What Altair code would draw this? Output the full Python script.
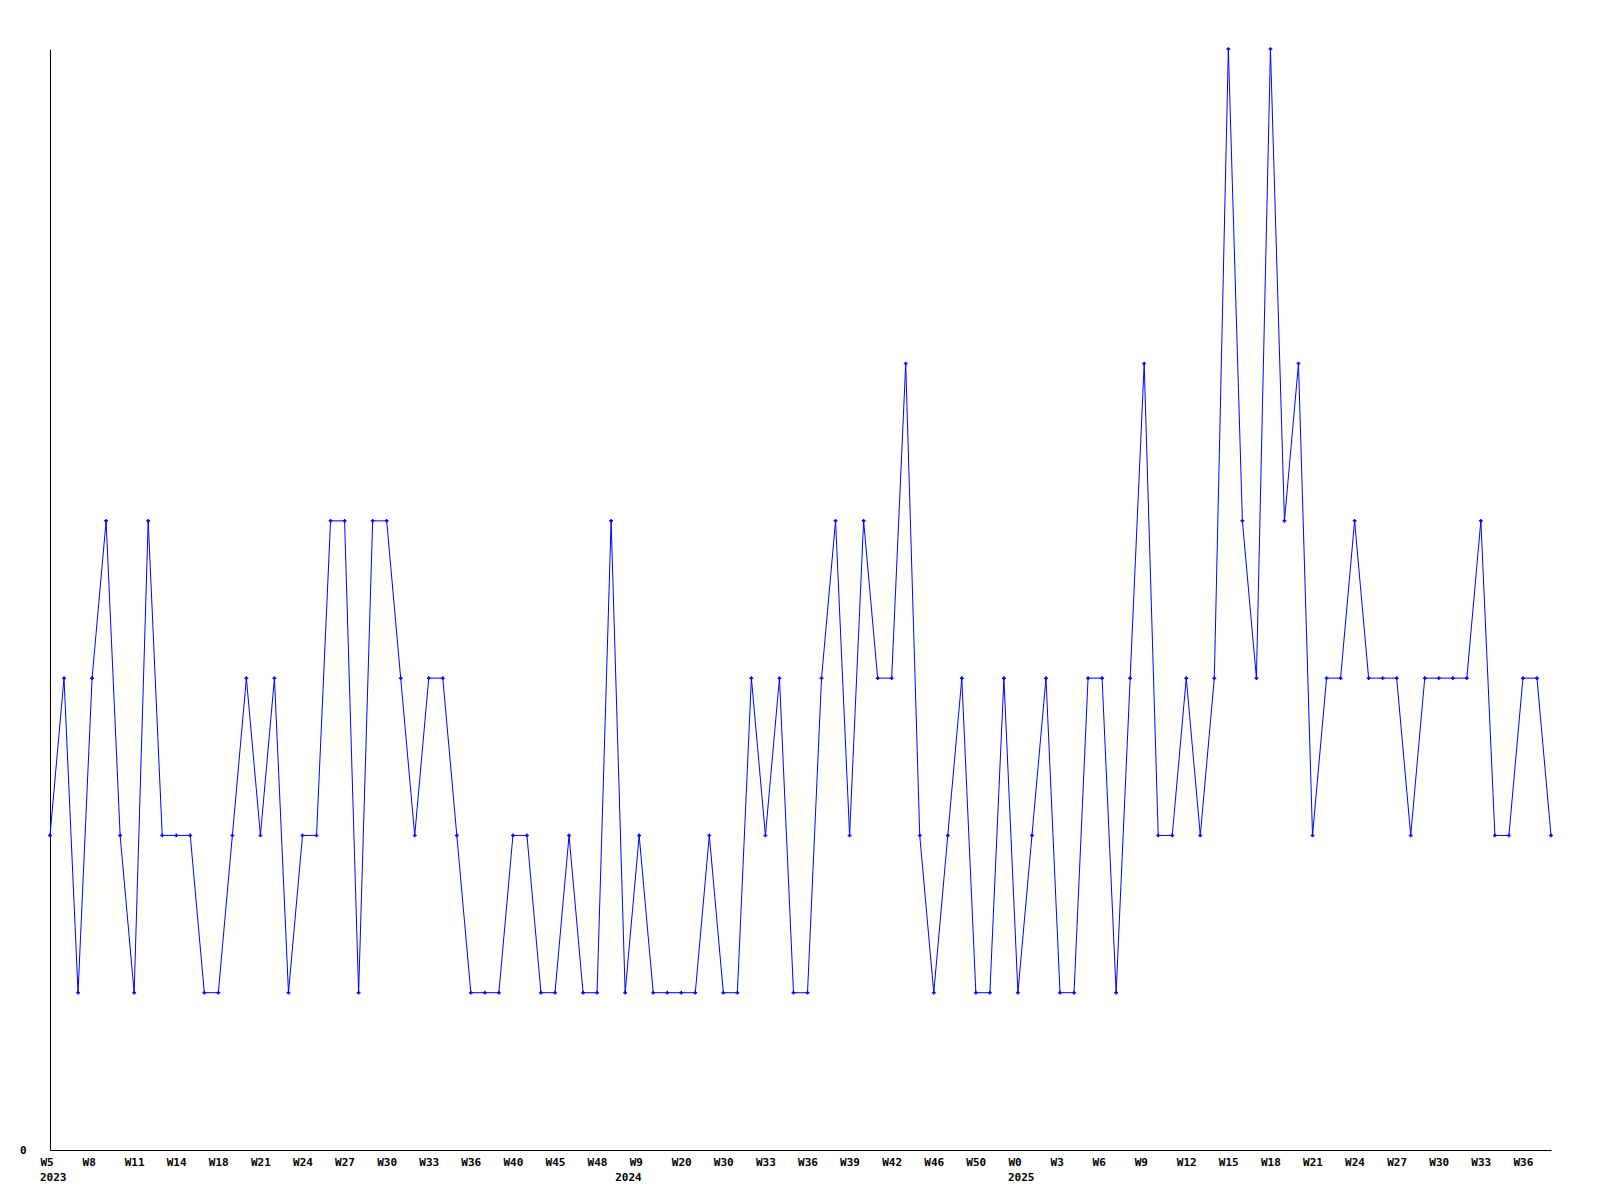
import json
import altair as alt
import pandas as pd

# Weekly values (one per week shown, 108 points)
values = [
    2, 3, 1, 3, 4, 2, 1, 4, 2, 2, 2, 1, 1, 2, 3, 2, 3, 1, 2, 2,
    4, 4, 1, 4, 4, 3, 2, 3, 3, 2, 1, 1, 1, 2, 2, 1, 1, 2, 1, 1,
    4, 1, 2, 1, 1, 1, 1, 2, 1, 1, 3, 2, 3, 1, 1, 3, 4, 2, 4, 3,
    3, 5, 2, 1, 2, 3, 1, 1, 3, 1, 2, 3, 1, 1, 3, 3, 1, 3, 5, 2,
    2, 3, 2, 3, 7, 4, 3, 7, 4, 5, 2, 3, 3, 4, 3, 3, 3, 2, 3, 3,
    3, 3, 4, 2, 2, 3, 3, 2,
]

# Tick labels (every third point)
tick_labels = [
    "W5", "W8", "W11", "W14", "W18", "W21", "W24", "W27", "W30", "W33", "W36", "W40", "W45", "W48",
    "W9", "W20", "W30", "W33", "W36", "W39", "W42", "W46", "W50",
    "W0", "W3", "W6", "W9", "W12", "W15", "W18", "W21", "W24", "W27", "W30", "W33", "W36",
]
tick_step = 3

# Year labels and the week index where each year starts
years = ["2023", "2024", "2025"]
year_start_index = [0, 41, 69]

df = pd.DataFrame({"idx": list(range(len(values))), "value": values})
df_years = pd.DataFrame({"idx": year_start_index, "year": years})

tick_values = [i * tick_step for i in range(len(tick_labels))]
label_expr = f"{json.dumps(tick_labels)}[indexof({json.dumps(tick_values)}, datum.value)]"

font = "DejaVu Sans Mono"
PLOT_W, PLOT_H = 1501, 1101

x_scale = alt.Scale(domain=[0, len(values) - 1], nice=False, zero=False)

x = alt.X(
    "idx:Q",
    scale=x_scale,
    axis=alt.Axis(
        values=tick_values,
        labelExpr=label_expr,
        title=None,
        ticks=False,
        grid=False,
        domainColor="black",
        domainWidth=1,
        labelAlign="left",
        labelOffset=-10,
        labelBaseline="top",
        labelPadding=6,
        labelFont=font,
        labelFontWeight="bold",
        labelFontSize=11,
        labelColor="black",
        labelOverlap=False,
        labelFlush=False,
    ),
)
y = alt.Y(
    "value:Q",
    scale=alt.Scale(domain=[0, 7], nice=False),
    axis=alt.Axis(
        values=[0],
        title=None,
        ticks=False,
        grid=False,
        domainColor="black",
        domainWidth=1,
        labelPadding=24,
        labelFont=font,
        labelFontWeight="bold",
        labelFontSize=11,
        labelColor="black",
    ),
)

base = alt.Chart(df).encode(x=x, y=y)
line = base.mark_line(color="#0000ff", strokeWidth=1)
pts = base.mark_point(shape="cross", filled=True, color="#0000ff", size=14, opacity=1)

year_text = alt.Chart(df_years).mark_text(
    align="left", baseline="top", dx=-10, font=font, fontWeight="bold", fontSize=11, color="black"
).encode(
    x=alt.X("idx:Q", scale=x_scale),
    y=alt.value(PLOT_H + 22),
    text="year:N",
)

chart = (
    alt.layer(line, pts, year_text)
    .properties(
        width=PLOT_W,
        height=PLOT_H,
        background="white",
        autosize=alt.AutoSizeParams(type="none"),
        padding={"left": 42, "top": 41, "right": 41, "bottom": 50},
    )
    .configure_view(strokeWidth=0, stroke="transparent")
)

chart.save("out.html", embed_options={"renderer": "svg", "actions": False})
